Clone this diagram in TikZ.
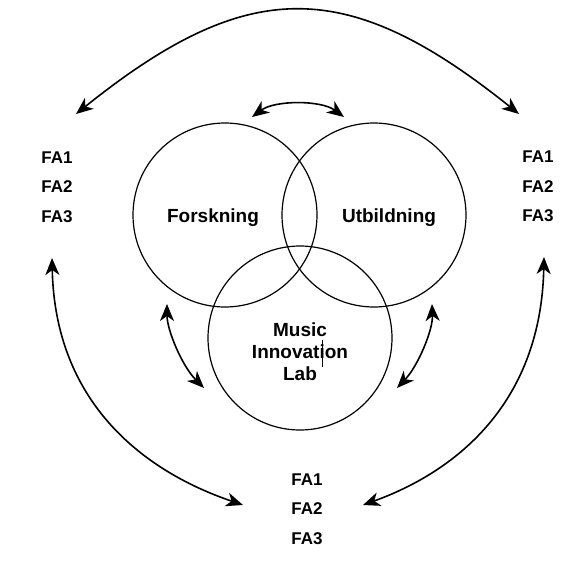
\documentclass[tikz,border=0pt]{standalone}
\usepackage{fontspec}
\setmainfont{Liberation Sans}
\usetikzlibrary{arrows.meta}
\tikzset{
  ring/.style={line width=1.2pt},
  tipshape/.tip={Stealth[length=17pt,width=14pt,inset=5pt]},
  dbl/.style={tipshape-tipshape, line width=1.6pt},
  falist/.style={font=\bfseries\fontsize{17}{29.5}\selectfont, align=center, inner sep=0pt},
  clabel/.style={font=\bfseries\fontsize{19}{22}\selectfont, align=center, inner sep=0pt, text depth=0pt}
}
\begin{document}
\begin{tikzpicture}[x=1pt,y=-1pt]
\useasboundingbox (0,0) rectangle (576,568);
% circles
\node[ring,draw,circle,minimum size=184pt,inner sep=0pt] (cF) at (225,215) {};
\node[ring,draw,circle,minimum size=184pt,inner sep=0pt] (cU) at (374,215) {};
\node[ring,draw,circle,minimum size=184pt,inner sep=0pt] (cM) at (300,338) {};
% labels
\node[clabel] (tF) at (213,215.5) {Forskning};
\node[clabel] (tU) at (389,215.5) {Utbildning};
\node[clabel] (tM) at (300,352) {Music\\Innovation\\Lab};
\draw[line width=0.8pt] (322,340) -- (322,367);
% FA lists
\node[falist] (faL) at (57,187) {FA1\\FA2\\FA3};
\node[falist] (faR) at (538,186.5) {FA1\\FA2\\FA3};
\node[falist] (faB) at (307,509) {FA1\\FA2\\FA3};
% arrow end points
\coordinate (tl) at (76,114);
\coordinate (tr) at (519,114);
\coordinate (sl) at (252,117);
\coordinate (sr) at (344,117);
\coordinate (ml1) at (167,304);
\coordinate (ml2) at (204,388);
\coordinate (mr1) at (432,304);
\coordinate (mr2) at (397,388);
\coordinate (bl1) at (52,258);
\coordinate (bl2) at (243,505);
\coordinate (br1) at (544,257);
\coordinate (br2) at (363,505);
% arrows
\draw[dbl] (tl) .. controls (248,-24) and (347,-24) .. (tr);
\draw[dbl] (sl) .. controls (275,100) and (321,100) .. (sr);
\draw[dbl] (ml1) .. controls (167,330) and (182,366) .. (ml2);
\draw[dbl] (mr1) .. controls (433,330) and (418,366) .. (mr2);
\draw[dbl] (bl1) .. controls (55,400) and (140,470) .. (bl2);
\draw[dbl] (br1) .. controls (541,400) and (460,470) .. (br2);
\end{tikzpicture}
\end{document}
